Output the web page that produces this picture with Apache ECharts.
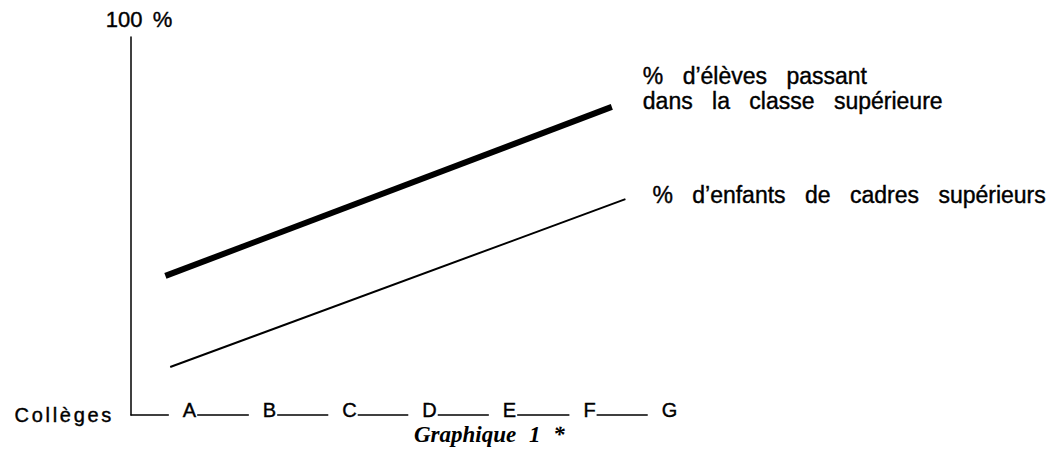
<!DOCTYPE html>
<html>
<head>
<meta charset="utf-8">
<script src="https://cdn.jsdelivr.net/npm/echarts@6/dist/echarts.min.js"></script>
<style>html,body{margin:0;padding:0;background:#fff}#chart{width:1056px;height:455px}</style>
</head>
<body>
<div id="chart"></div>
<script>
// Data (x in "college" units: A=1 ... G=7; y in %)
var colleges = ['A', 'B', 'C', 'D', 'E', 'F', 'G'];
var collegePositions = [1, 2, 3, 4, 5, 6, 7];
var passageLabel = '% d’élèves passant\ndans la classe supérieure';
var cadresLabel = '% d’enfants de cadres supérieurs';
var passageSeries = [[0.78, 36.8], [6.36, 81.5]];
var cadresSeries = [[0.84, 12.7], [6.53, 57.1]];
var yTopLabel = '100 %';
var xAxisName = 'Collèges';
var chartTitle = 'Graphique 1 *';

var font = '"Liberation Sans", Arial, Helvetica, sans-serif';
var ink = { color: '#000', textBorderColor: '#000', textBorderWidth: 0.4 };
var chart = echarts.init(document.getElementById('chart'), null, { renderer: 'svg' });
chart.setOption({
  animation: false,
  backgroundColor: '#fff',
  title: {
    text: chartTitle,
    left: 414,
    top: 425,
    padding: 0,
    textStyle: { fontFamily: '"Liberation Serif", "Times New Roman", serif', fontStyle: 'italic', fontWeight: 'bold', fontSize: 23, lineHeight: 19, color: '#000' }
  },
  grid: { left: 131, right: 393, top: 37, bottom: 40, containLabel: false },
  xAxis: {
    type: 'value',
    min: 0.35,
    max: 7,
    name: xAxisName,
    nameLocation: 'start',
    nameGap: 17,
    nameTextStyle: Object.assign({ fontFamily: font, fontSize: 20, padding: [0, 0, 6, 0] }, ink),
    axisLine: { show: true, lineStyle: { color: '#000', width: 1.5 } },
    axisTick: { show: false },
    splitLine: { show: false },
    axisLabel: Object.assign({
      customValues: collegePositions,
      formatter: function (v) { return colleges[Math.round(v) - 1]; },
      fontFamily: font,
      fontSize: 20,
      lineHeight: 16,
      margin: -5,
      verticalAlign: 'middle',
      backgroundColor: '#fff',
      padding: [0, 1, 0, 14]
    }, ink)
  },
  yAxis: {
    type: 'value',
    min: 0,
    max: 100,
    name: yTopLabel,
    nameLocation: 'end',
    nameGap: 7,
    nameTextStyle: Object.assign({ fontFamily: font, fontSize: 22, padding: [0, 0, 0, 16] }, ink),
    axisLine: { show: true, lineStyle: { color: '#000', width: 1.5 } },
    axisTick: { show: false },
    axisLabel: { show: false },
    splitLine: { show: false }
  },
  series: [
    {
      name: passageLabel,
      type: 'line',
      data: passageSeries,
      symbol: 'none',
      lineStyle: { color: '#000', width: 6 },
      endLabel: Object.assign({
        show: true,
        formatter: function (p) { return p.seriesName; },
        distance: 0,
        offset: [31, -18],
        align: 'left',
        verticalAlign: 'middle',
        fontFamily: font,
        fontSize: 23,
        lineHeight: 25
      }, ink)
    },
    {
      name: cadresLabel,
      type: 'line',
      data: cadresSeries,
      symbol: 'none',
      lineStyle: { color: '#000', width: 2 },
      endLabel: Object.assign({
        show: true,
        formatter: function (p) { return p.seriesName; },
        distance: 0,
        offset: [27, -4],
        align: 'left',
        verticalAlign: 'middle',
        fontFamily: font,
        fontSize: 23,
        lineHeight: 25
      }, ink)
    }
  ]
});

// Typographic spacing of the original print (wide word spacing / tracking)
function applySpacing() {
  var texts = document.querySelectorAll('#chart svg text');
  texts.forEach(function (t) {
    var s = t.textContent;
    if (s.indexOf('passant') >= 0 || s.indexOf('classe') >= 0 || s.indexOf('enfants') >= 0) {
      t.style.wordSpacing = '13px';
    } else if (s.indexOf('Graphique') >= 0) {
      t.style.wordSpacing = '7px';
    } else if (s.indexOf('100') >= 0) {
      t.style.wordSpacing = '4px';
    } else if (s.indexOf('Coll') >= 0) {
      t.style.letterSpacing = '2.7px';
    }
  });
}
chart.on('finished', applySpacing);
applySpacing();
setTimeout(applySpacing, 0);
setTimeout(applySpacing, 100);
</script>
</body>
</html>
